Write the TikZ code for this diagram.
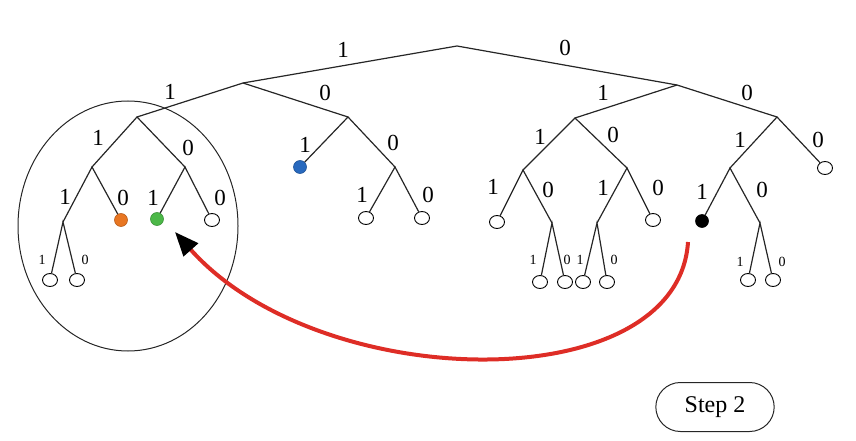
\documentclass[tikz,border=0pt]{standalone}
\usepackage{fontspec}
\setmainfont{Liberation Serif}
\usetikzlibrary{arrows.meta,shapes.misc,shapes.geometric}
\definecolor{arrred}{RGB}{222,45,38}
\definecolor{dotorange}{RGB}{232,118,34}
\definecolor{dotgreen}{RGB}{76,184,72}
\definecolor{dotblue}{RGB}{40,105,190}
\begin{document}
\begin{tikzpicture}[x=1pt,y=-1pt,
  edge/.style={draw=black!85,line width=1.2pt},
  leaf/.style={ellipse,draw=black,fill=white,line width=0.9pt,minimum width=15pt,minimum height=13pt,inner sep=0pt},
  dot/.style={circle,draw=#1!80!black,fill=#1,line width=0.6pt,minimum size=13pt,inner sep=0pt},
  lbl/.style={font=\fontsize{23}{23}\selectfont,inner sep=0pt},
  slbl/.style={font=\fontsize{14}{14}\selectfont,inner sep=0pt}]
\useasboundingbox (0,0) rectangle (856,441);
% internal nodes
\coordinate (r) at (457,46);
\coordinate (a) at (243,83);
\coordinate (b) at (677,85);
\coordinate (c) at (137,117);
\coordinate (d) at (348,117);
\coordinate (e) at (575,118);
\coordinate (f) at (777,117);
\coordinate (g) at (92,167);
\coordinate (h) at (185,167);
\coordinate (i) at (63,222);
\coordinate (j) at (395,167);
\coordinate (k) at (523,170);
\coordinate (l) at (627,168);
\coordinate (m) at (552,223);
\coordinate (n) at (597,223);
\coordinate (o) at (730,168);
\coordinate (p) at (760,223);
% leaves
\node[dot=dotorange] (or) at (121,220) {};
\node[dot=dotgreen] (gr) at (157,219) {};
\node[leaf] (h0) at (212,220) {};
\node[leaf] (i1) at (50,280) {};
\node[leaf] (i0) at (77,280) {};
\node[dot=dotblue] (bl) at (300,167) {};
\node[leaf] (j1) at (366,218) {};
\node[leaf] (j0) at (422,218) {};
\node[leaf] (k1) at (497,222) {};
\node[leaf] (l0) at (653,220) {};
\node[leaf] (m1) at (540,282) {};
\node[leaf] (m0) at (565,282) {};
\node[leaf] (n1) at (583,282) {};
\node[leaf] (n0) at (607,282) {};
\node[leaf] (f0) at (825,168) {};
\node[dot=black] (bk) at (702,221) {};
\node[leaf] (p1) at (748,280) {};
\node[leaf] (p0) at (773,280) {};
% edges
\draw[edge] (a) -- (r) -- (b);
\draw[edge] (c) -- (a) -- (d);
\draw[edge] (e) -- (b) -- (f);
\draw[edge] (g) -- (c) -- (h);
\draw[edge] (i) -- (g) -- (or);
\draw[edge] (gr) -- (h) -- (h0);
\draw[edge] (i1) -- (i) -- (i0);
\draw[edge] (bl) -- (d) -- (j);
\draw[edge] (j1) -- (j) -- (j0);
\draw[edge] (k) -- (e) -- (l);
\draw[edge] (k1) -- (k) -- (m);
\draw[edge] (n) -- (l) -- (l0);
\draw[edge] (m1) -- (m) -- (m0);
\draw[edge] (n1) -- (n) -- (n0);
\draw[edge] (o) -- (f) -- (f0);
\draw[edge] (bk) -- (o) -- (p);
\draw[edge] (p1) -- (p) -- (p0);
% labels
\node[lbl] (t1) at (343,50) {1};
\node[lbl] (t2) at (565,48) {0};
\node[lbl] (t3) at (170,92) {1};
\node[lbl] (t4) at (325,93) {0};
\node[lbl] (t5) at (603,93) {1};
\node[lbl] (t6) at (747,93) {0};
\node[lbl] (t7) at (98,138) {1};
\node[lbl] (t8) at (188,148) {0};
\node[lbl] (t9) at (65,197) {1};
\node[lbl] (t10) at (123,198) {0};
\node[lbl] (t11) at (153,198) {1};
\node[lbl] (t12) at (220,198) {0};
\node[slbl] (s1) at (42,260) {1};
\node[slbl] (s2) at (85,260) {0};
\node[lbl] (t13) at (305,145) {1};
\node[lbl] (t14) at (393,143) {0};
\node[lbl] (t15) at (362,195) {1};
\node[lbl] (t16) at (428,195) {0};
\node[lbl] (t17) at (540,137) {1};
\node[lbl] (t18) at (613,135) {0};
\node[lbl] (t19) at (493,187) {1};
\node[lbl] (t20) at (548,190) {0};
\node[lbl] (t21) at (603,188) {1};
\node[lbl] (t22) at (658,188) {0};
\node[slbl] (s3) at (533,260) {1};
\node[slbl] (s4) at (567,260) {0};
\node[slbl] (s5) at (580,260) {1};
\node[slbl] (s6) at (614,260) {0};
\node[lbl] (t23) at (740,140) {1};
\node[lbl] (t24) at (818,140) {0};
\node[lbl] (t25) at (702,192) {1};
\node[lbl] (t26) at (762,190) {0};
\node[slbl] (s7) at (740,262) {1};
\node[slbl] (s8) at (782,262) {0};
% enclosing ellipse
\node[ellipse,draw=black!85,line width=1pt,minimum width=220pt,minimum height=250pt,inner sep=0pt] (circ) at (128,226) {};
% red arrow
\coordinate (as) at (688,242);
\coordinate (at) at (175,232);
\draw[arrred,line width=4pt,-{Triangle[length=24pt,width=19pt,color=black]}] (as) .. controls (678,400) and (320,395) .. (at);
% step box
\node[rounded rectangle,draw=black!85,line width=1pt,minimum width=125pt,minimum height=49pt,font=\fontsize{24}{24}\selectfont] (step) at (715,407) {Step 2};
\end{tikzpicture}
\end{document}
